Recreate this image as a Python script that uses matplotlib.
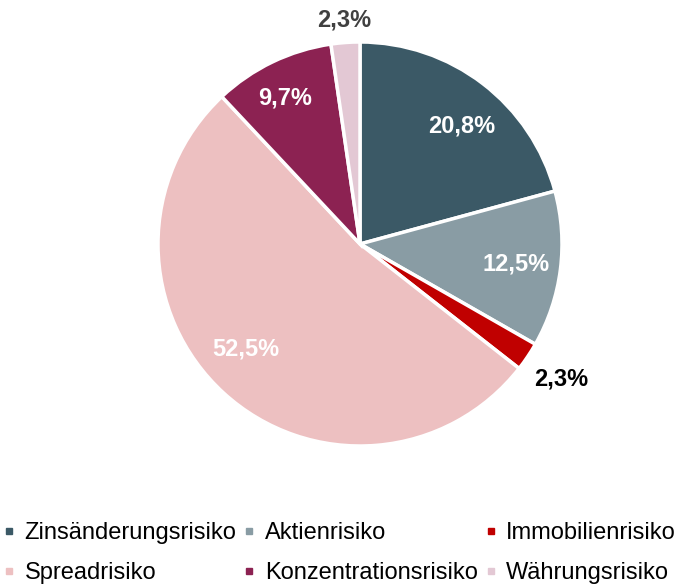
import matplotlib
matplotlib.use("Agg")
import numpy as np
import matplotlib.pyplot as plt
from matplotlib.lines import Line2D

plt.rcParams['font.family'] = ['Liberation Sans', 'DejaVu Sans']

categories = ["Zinsänderungsrisiko", "Aktienrisiko", "Immobilienrisiko",
              "Spreadrisiko", "Konzentrationsrisiko", "Währungsrisiko"]
values = [20.8, 12.5, 2.3, 52.5, 9.7, 2.3]
labels = ["20,8%", "12,5%", "2,3%", "52,5%", "9,7%", "2,3%"]
colors = ["#3b5966", "#899ca4", "#c00000", "#edc0c1", "#8c2252", "#e3c8d4"]

# label placement per slice: radius (fraction of pie radius), angle tweak, colour
label_r = [0.77, 0.78, 1.2, 0.77, 0.81, 1.11]
label_da = [-3.5, 0, 0, -5, 1.5, 0]
label_c = ["white", "white", "black", "white", "white", "#404040"]

fig = plt.figure(figsize=(6.77, 5.87), dpi=100)
ax = fig.add_axes([158 / 677, (587 - 446) / 587, 404 / 677, 404 / 587])

wedges, _ = ax.pie(values, colors=colors, startangle=90, counterclock=False,
                   wedgeprops=dict(edgecolor="white", linewidth=2.5))
ax.set_xlim(-1, 1)
ax.set_ylim(-1, 1)
ax.set_aspect("equal")

for w, lab, r, da, c in zip(wedges, labels, label_r, label_da, label_c):
    ang = np.deg2rad((w.theta1 + w.theta2) / 2 + da)
    ax.text(r * np.cos(ang), r * np.sin(ang), lab, ha="center", va="center",
            fontsize=17, fontweight="bold", color=c)

# legend filled column-wise, so reorder to match the row layout
order = [0, 3, 1, 4, 2, 5]
handles = [Line2D([], [], marker="s", linestyle="none", markersize=4.5,
                  markerfacecolor=colors[i], markeredgecolor=colors[i]) for i in order]
fig.legend(handles, [categories[i] for i in order], ncol=3, frameon=False,
           loc="upper left", bbox_to_anchor=(0.005, 1 - 522 / 587),
           fontsize=17, handlelength=0.5, handletextpad=0.4,
           columnspacing=0.3, labelspacing=0.78, borderpad=0, borderaxespad=0)

fig.savefig("out.png", dpi=100, facecolor="white")
